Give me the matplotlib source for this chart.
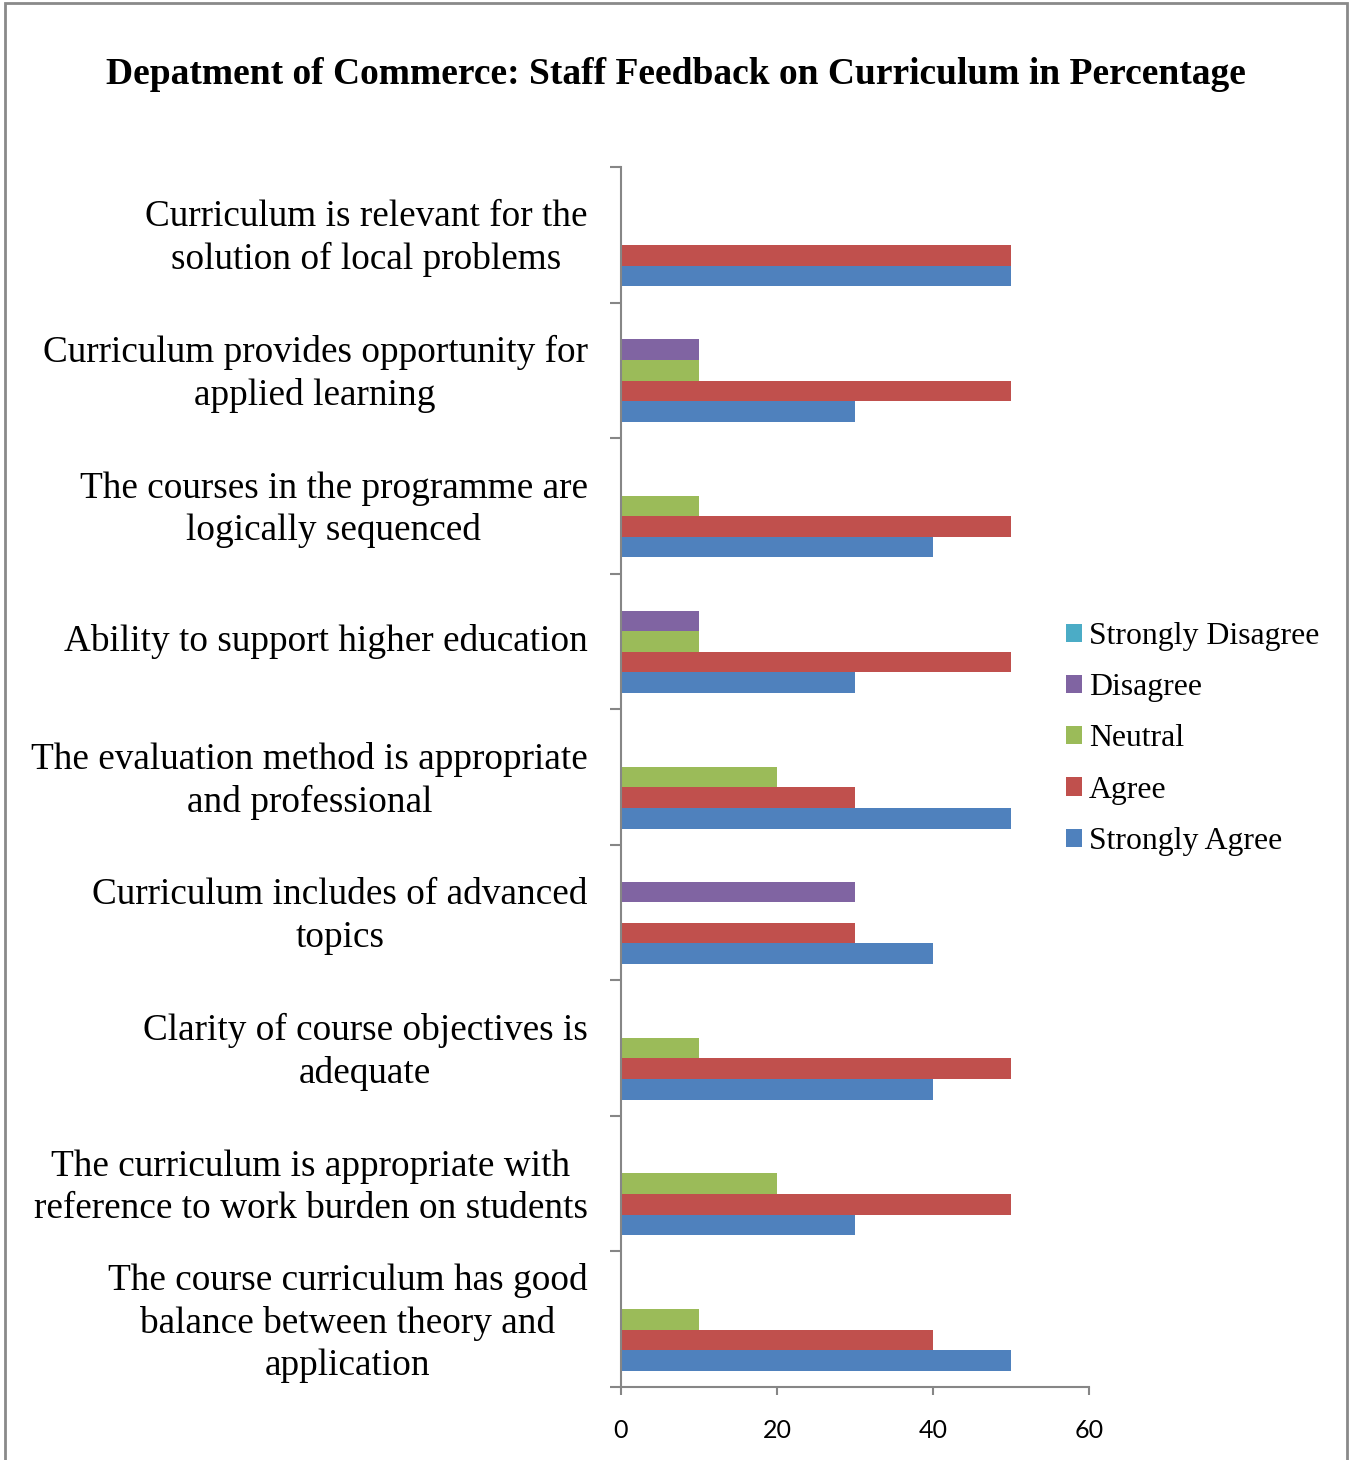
import numpy as np
import matplotlib.pyplot as plt
from matplotlib.patches import Rectangle

# categories listed bottom to top (as Excel draws them)
categories = [
    "The course curriculum has good\nbalance between theory and\napplication",
    "The curriculum is appropriate with\nreference to work burden on students",
    "Clarity of course objectives is\nadequate",
    "Curriculum includes of advanced\ntopics",
    "The evaluation method is appropriate\nand professional",
    "Ability to support higher education",
    "The courses in the programme are\nlogically sequenced",
    "Curriculum provides opportunity for\napplied learning",
    "Curriculum is relevant for the\nsolution of local problems",
]

strongly_agree = [50, 30, 40, 40, 50, 30, 40, 30, 50]
agree = [40, 50, 50, 30, 30, 50, 50, 50, 50]
neutral = [10, 20, 10, 0, 20, 10, 10, 10, 0]
disagree = [0, 0, 0, 30, 0, 10, 0, 10, 0]
strongly_disagree = [0, 0, 0, 0, 0, 0, 0, 0, 0]

series = [
    ("Strongly Agree", strongly_agree, "#4F81BD"),
    ("Agree", agree, "#C0504D"),
    ("Neutral", neutral, "#9BBB59"),
    ("Disagree", disagree, "#8064A2"),
    ("Strongly Disagree", strongly_disagree, "#4BACC6"),
]

serif = ["Liberation Serif", "DejaVu Serif"]
sans = ["Lato", "DejaVu Sans"]

fig = plt.figure(figsize=(13.51, 14.6), dpi=100)
ax = fig.add_axes([621 / 1351, 73 / 1460, 468 / 1351, 1220 / 1460])

y = np.arange(len(categories))
h = 0.152
handles = []
for i, (name, vals, col) in enumerate(series):
    b = ax.barh(y + (i - 2) * h, vals, height=h, color=col, label=name)
    handles.append(b)

ax.set_xlim(0, 60)
ax.set_ylim(-0.5, len(categories) - 0.5)
ax.set_xticks([0, 20, 40, 60])
ax.set_yticks(np.arange(len(categories) + 1) - 0.5)
ax.set_yticklabels([])
# labels sit a touch above the group centre, as in the original
ax.set_yticks(y + 0.03, minor=True)
ax.set_yticklabels(categories, minor=True, fontsize=26.8, family=serif,
                   multialignment="center", linespacing=1.29)

for s in ["top", "right"]:
    ax.spines[s].set_visible(False)
for s in ["left", "bottom"]:
    ax.spines[s].set_color("#868686")
    ax.spines[s].set_linewidth(1.5)

ax.tick_params(axis="y", which="major", length=8, width=1.5, color="#868686", direction="out")
ax.tick_params(axis="y", which="minor", length=0, pad=24)
ax.tick_params(axis="x", length=6, width=1.5, color="#868686", pad=17, labelsize=18)
for t in ax.get_xticklabels():
    t.set_family(sans)

fig.text(0.5, 1 - 74 / 1460, "Depatment of Commerce: Staff Feedback on Curriculum in Percentage",
         ha="center", va="center", fontsize=27, fontweight="bold", family=serif)

leg = fig.legend(handles[::-1], [s[0] for s in series][::-1],
                 loc="center left", bbox_to_anchor=(1066 / 1351, 1 - 739 / 1460),
                 frameon=False, prop={"family": serif, "size": 22.9},
                 handlelength=0.5, handleheight=0.5, handletextpad=0.22,
                 labelspacing=0.7, borderpad=0, borderaxespad=0)

fig.patches.append(Rectangle((5 / 1351, -0.01), 1342 / 1351, 1.01 - 3 / 1460,
                             transform=fig.transFigure, fill=False,
                             edgecolor="#8a8a8a", linewidth=2))

fig.savefig("out.png", dpi=100)
